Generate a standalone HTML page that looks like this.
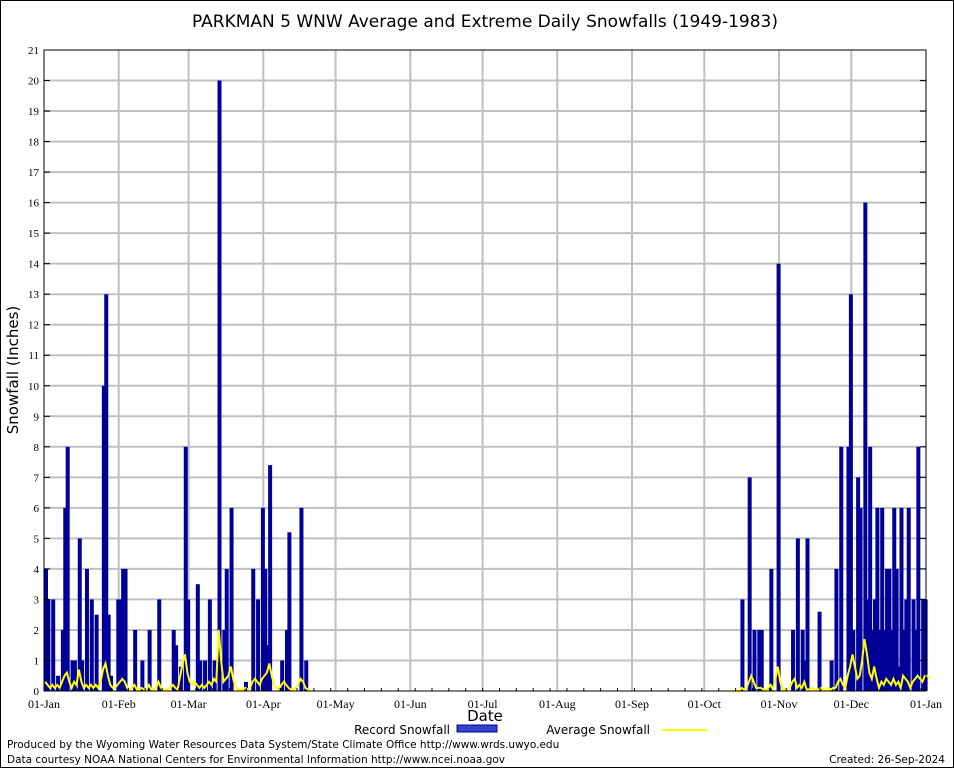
<!DOCTYPE html>
<html><head><meta charset="utf-8"><style>
html,body{margin:0;padding:0;background:#fff;}
svg{display:block;font-family:"DejaVu Sans","Liberation Sans",sans-serif;}
</style></head><body>
<svg id="chart" width="954" height="768" viewBox="0 0 954 768" xmlns="http://www.w3.org/2000/svg">
<rect x="0.5" y="0.5" width="953" height="767" fill="#fff" stroke="#000"/>
<text x="485" y="27" text-anchor="middle" font-size="17">PARKMAN 5 WNW Average and Extreme Daily Snowfalls (1949-1983)</text>
<text transform="translate(18,370) rotate(-90)" text-anchor="middle" font-size="15">Snowfall (Inches)</text>
<text x="485" y="721" text-anchor="middle" font-size="15">Date</text>
<g id="grid"></g>
<g id="bars"></g>
<polyline id="avgline1" fill="none" stroke="#ffff00" stroke-width="2"/>
<polyline id="avgline2" fill="none" stroke="#ffff00" stroke-width="2"/>
<g id="axes"></g>
<g>
<text x="450" y="734" text-anchor="end" font-size="12">Record Snowfall</text>
<rect x="457" y="725" width="40" height="7" fill="#3344cc" stroke="#000099"/>
<text x="650" y="734" text-anchor="end" font-size="12">Average Snowfall</text>
<line x1="662" y1="730" x2="707" y2="730" stroke="#ffff00" stroke-width="2"/>
</g>
<text x="7" y="748" font-size="10.5">Produced by the Wyoming Water Resources Data System/State Climate Office http://www.wrds.uwyo.edu</text>
<text x="7" y="763" font-size="10.5">Data courtesy NOAA National Centers for Environmental Information http://www.ncei.noaa.gov</text>
<text x="945" y="763" text-anchor="end" font-size="10.5">Created: 26-Sep-2024</text>
</svg>
<script>
const recordDays=[0,1,3,5,7,8,9,11,12,14,15,17,19,21,24,25,26,27,30,31,32,33,37,40,43,47,53,54,56,58,59,63,64,66,68,70,72,74,75,77,83,86,88,90,91,92,93,98,100,101,106,108,289,292,294,296,297,301,304,310,312,314,315,316,321,326,328,330,333,334,335,337,338,340,341,342,343,344,345,346,347,348,349,350,351,352,353,354,355,356,357,358,360,361,362,364,365];
const recordVals=[4,3,3,0.5,2,6,8,1,1,5,1,4,3,2.5,10,13,2.5,0.5,3,3,4,4,2,1,2,3,2,1.5,0.8,8,3,3.5,1,1,3,1,20,2,4,6,0.3,4,3,6,4,1.5,7.4,1,2,5.2,6,1,3,7,2,2,2,4,14,2,5,2,1,5,2.6,1,4,8,8,13,2,7,6,16,3,8,2,3,6,2,6,2,4,4,2,6,4,0.8,6,2,3,6,3,2,8,3,3];
const avgJan=[0.3,0.2,0.1,0.2,0.1,0.2,0.1,0.3,0.5,0.6,0.3,0.1,0.3,0.2,0.7,0.3,0.1,0.2,0.1,0.2,0.1,0.2,0.1,0.3,0.7,0.9,0.5,0.2,0.1,0.1,0.2,0.3,0.4,0.3,0.1,0.05,0.1,0.2,0.05,0.05,0.1,0.05,0.05,0.2,0.05,0.05,0.1,0.3,0.1,0.05,0.05,0.05,0.1,0.2,0.1,0.05,0.5,0.9,1.2,0.6,0.3,0.2,0.3,0.2,0.1,0.2,0.1,0.2,0.3,0.2,0.4,0.3,2.0,1.0,0.3,0.4,0.5,0.8,0.4,0.1,0.05,0.05,0.05,0.1,0.05,0.1,0.3,0.4,0.3,0.2,0.4,0.5,0.6,0.9,0.5,0.2,0.1,0.05,0.2,0.3,0.2,0.1,0.05,0.05,0.1,0.2,0.4,0.3,0.1,0.05,0];
const avgOctStart=285;
const avgOct=[0,0,0,0,0.1,0.05,0.1,0.3,0.5,0.3,0.1,0.1,0.1,0.05,0,0.1,0.2,0.05,0.4,0.8,0.3,0.05,0.05,0.05,0.1,0.3,0.4,0.1,0.2,0.1,0.3,0.05,0.05,0.1,0.05,0.05,0.05,0.1,0.05,0.05,0.1,0.05,0.1,0.1,0.3,0.4,0.2,0.1,0.5,0.8,1.2,0.8,0.4,0.5,1.0,1.7,1.2,0.6,0.4,0.8,0.4,0.1,0.3,0.2,0.4,0.3,0.2,0.4,0.2,0.3,0.1,0.5,0.4,0.3,0.1,0.3,0.4,0.5,0.4,0.3,0.5,0.5,0.4];
const monthLabels=["01-Jan","01-Feb","01-Mar","01-Apr","01-May","01-Jun","01-Jul","01-Aug","01-Sep","01-Oct","01-Nov","01-Dec","01-Jan"];
const monthStartDays=[0,31,60,91,121,152,182,213,244,274,305,335,366];
const yTicks=[0,1,2,3,4,5,6,7,8,9,10,11,12,13,14,15,16,17,18,19,20,21];

const X0=44,X1=926,Y0=691,Y1=50,NDAYS=366,YMAX=21;
const xs=d=>X0+d*(X1-X0)/NDAYS;
const ys=v=>Y0-v*(Y0-Y1)/YMAX;
const NS="http://www.w3.org/2000/svg";
function mk(tag,attrs,parent,txt){const e=document.createElementNS(NS,tag);for(const k in attrs)e.setAttribute(k,attrs[k]);if(txt!==undefined)e.textContent=txt;parent.appendChild(e);return e;}
const grid=document.getElementById('grid'),axes=document.getElementById('axes'),bars=document.getElementById('bars');
yTicks.forEach(t=>{
  if(t>0&&t<YMAX){const l=mk('line',{x1:X0,x2:X1,y1:ys(t),y2:ys(t),stroke:'#c0c0c0','stroke-width':2},grid);
  
  }
  const tk=mk('line',{x1:X0,x2:X0+6,y1:ys(t),y2:ys(t),stroke:'#000'},axes);
  
  
  const tk2=mk('line',{x1:X1-6,x2:X1,y1:ys(t),y2:ys(t),stroke:'#000'},axes);
  
  
  const tx=mk('text',{x:X0-5,y:ys(t)+4,'text-anchor':'end','font-size':11,'font-family':'Liberation Serif, serif'},axes,String(t));
  
  
});
monthStartDays.forEach((d,i)=>{
  if(i>0&&i<monthStartDays.length-1){const l=mk('line',{x1:xs(d),x2:xs(d),y1:Y1,y2:Y0,stroke:'#c0c0c0','stroke-width':2},grid);
  
  }
  const tx=mk('text',{x:xs(d),y:Y0+17,'text-anchor':'middle','font-size':12,'font-family':'Liberation Serif, serif'},axes,monthLabels[i]);
  
  
});
for(let d=0;d<NDAYS;d+=7){const tk=mk('line',{x1:xs(d),x2:xs(d),y1:Y0,y2:Y0-3,stroke:'#000'},axes);
  
  }
const bw=4;
recordDays.forEach((d,i)=>{
  const r=mk('rect',{x:xs(d),y:ys(recordVals[i]),width:bw,height:Y0-ys(recordVals[i]),fill:'#000099'},bars);
  
  
});
const pts1=[],pts2=[];
avgJan.forEach((v,i)=>pts1.push(xs(i+0.5).toFixed(1)+','+ys(v).toFixed(1)));
avgOct.forEach((v,i)=>pts2.push(xs(avgOctStart+i+0.5).toFixed(1)+','+ys(v).toFixed(1)));
document.getElementById('avgline1').setAttribute('points',pts1.join(' '));
document.getElementById('avgline2').setAttribute('points',pts2.join(' '));
mk('rect',{x:X0,y:Y1,width:X1-X0,height:Y0-Y1,fill:'none',stroke:'#000'},axes);
</script>
</body></html>
